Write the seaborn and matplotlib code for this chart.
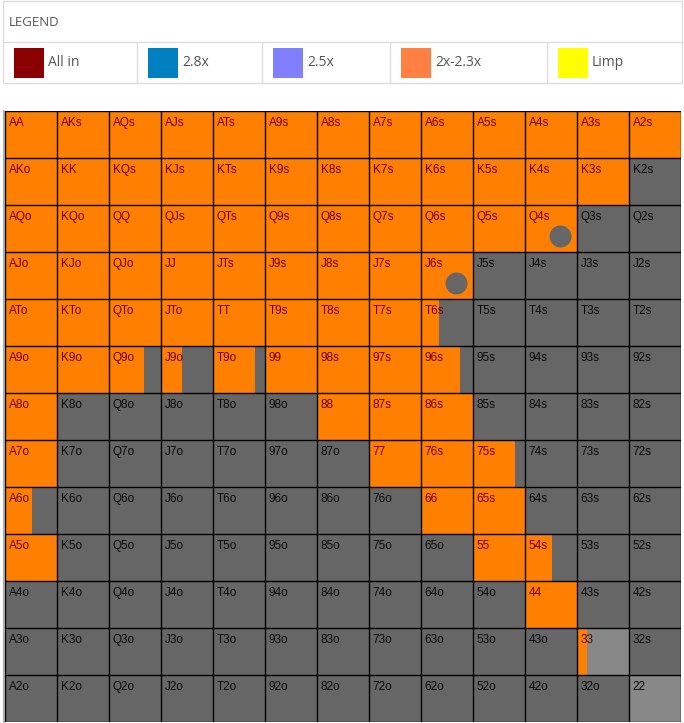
import numpy as np
import matplotlib
matplotlib.use("Agg")
import matplotlib.pyplot as plt
from matplotlib.colors import ListedColormap
from matplotlib.patches import Rectangle
import seaborn as sns

sns.set_theme(style="white")
plt.rcParams['font.family'] = ['DejaVu Sans']

# ---------------- data ----------------
ranks = ["A", "K", "Q", "J", "T", "9", "8", "7", "6", "5", "4", "3", "2"]

legend_labels = ["All in", "2.8x", "2.5x", "2x-2.3x", "Limp"]
legend_colors = ["#8B0000", "#0080C0", "#8080FF", "#FF8040", "#FFFF00"]

# fraction of each hand raised (2x-2.3x), rows = first rank, cols = second rank
raise_frac = [
    [1, 1, 1, 1, 1, 1, 1, 1, 1, 1, 1, 1, 1],
    [1, 1, 1, 1, 1, 1, 1, 1, 1, 1, 1, 1, 0],
    [1, 1, 1, 1, 1, 1, 1, 1, 1, 1, 1, 0, 0],
    [1, 1, 1, 1, 1, 1, 1, 1, 1, 0, 0, 0, 0],
    [1, 1, 1, 1, 1, 1, 1, 1, 0.35, 0, 0, 0, 0],
    [1, 1, 0.67, 0.4, 0.81, 1, 1, 1, 0.75, 0, 0, 0, 0],
    [1, 0, 0, 0, 0, 0, 1, 1, 1, 0, 0, 0, 0],
    [1, 0, 0, 0, 0, 0, 0, 1, 1, 0.8, 0, 0, 0],
    [0.52, 0, 0, 0, 0, 0, 0, 0, 1, 1, 0, 0, 0],
    [1, 0, 0, 0, 0, 0, 0, 0, 0, 1, 0.52, 0, 0],
    [0, 0, 0, 0, 0, 0, 0, 0, 0, 0, 1, 0, 0],
    [0, 0, 0, 0, 0, 0, 0, 0, 0, 0, 0, 0.2, 0],
    [0, 0, 0, 0, 0, 0, 0, 0, 0, 0, 0, 0, 0],
]
# background state of each cell: 0 = fold (dark gray), 1 = light gray
base_state = np.zeros((13, 13), dtype=int)
base_state[11][11] = 1
base_state[12][12] = 1

# hands carrying a marker dot
marked_hands = ["Q4s", "J6s"]

# ---------------- styling ----------------
ORANGE = "#FF8000"
GRAY = "#666666"
LIGHT = "#888888"

W, H = 684, 723
fig = plt.figure(figsize=(W / 100, H / 100), dpi=100)

def hand_name(i, j):
    if i == j:
        return ranks[i] + ranks[j]
    if j > i:
        return ranks[i] + ranks[j] + "s"
    return ranks[j] + ranks[i] + "o"

# ---------------- grid ----------------
gx0, gx1, gy0, gy1 = 5, 681, 111, 722
ax = fig.add_axes([gx0 / W, 1 - gy1 / H, (gx1 - gx0) / W, (gy1 - gy0) / H])
sns.heatmap(base_state, cmap=ListedColormap([GRAY, LIGHT]), vmin=0, vmax=1,
            cbar=False, linewidths=0, ax=ax, xticklabels=False, yticklabels=False)

frac = np.array(raise_frac, dtype=float)
for i in range(13):
    for j in range(13):
        f = frac[i, j]
        if f > 0:
            ax.add_patch(Rectangle((j, i), f, 1, facecolor=ORANGE, edgecolor="none", zorder=2))

for h in marked_hands:
    for i in range(13):
        for j in range(13):
            if hand_name(i, j) == h:
                ax.scatter([j + 0.67], [i + 0.67], s=250, color=GRAY, zorder=3, linewidths=0)

for k in range(14):
    ax.axhline(k, color="#000000", lw=1.0, zorder=4)
    ax.axvline(k, color="#000000", lw=1.0, zorder=4)

for i in range(13):
    for j in range(13):
        col = "#6E0000" if frac[i, j] > 0 else "#0A0A0A"
        ax.text(j + 0.07, i + 0.13, hand_name(i, j), ha="left", va="top",
                fontsize=8.5, color=col, zorder=5, family="Liberation Sans")

ax.set_xlim(0, 13)
ax.set_ylim(13, 0)
for s in ax.spines.values():
    s.set_visible(False)

# left border line of table
fig.add_artist(plt.Line2D([3.5 / W, 3.5 / W], [1 - gy1 / H, 1 - gy0 / H],
                          color="#AAAAAA", lw=1.5))

# ---------------- legend ----------------
lax = fig.add_axes([0, 0, 1, 1])
lax.set_xlim(0, W)
lax.set_ylim(H, 0)
lax.axis("off")
border = "#DDDDDD"
lax.add_patch(Rectangle((3, 1), 679, 82, facecolor="white", edgecolor=border, lw=1))
lax.plot([3, 682], [42, 42], color=border, lw=1)
lax.text(9, 22, "LEGEND", ha="left", va="center", fontsize=9.5,
         color="#555555", family="Open Sans")

starts = [3, 137, 262, 390, 547]
for k, (lab, c) in enumerate(zip(legend_labels, legend_colors)):
    x = starts[k]
    if k > 0:
        lax.plot([x, x], [42, 83], color=border, lw=1)
    lax.add_patch(Rectangle((x + 11, 48), 30, 30, facecolor=c, edgecolor="none"))
    lax.text(x + 45, 63, lab, ha="left", va="center", fontsize=10,
             color="#555555", family="Open Sans")

fig.savefig("out.png", dpi=100)
